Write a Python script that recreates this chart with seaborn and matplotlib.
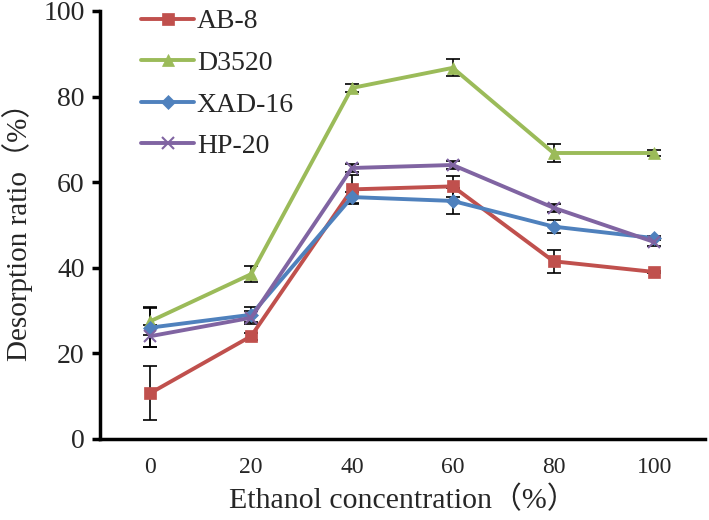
import numpy as np
import pandas as pd
import matplotlib
matplotlib.use("Agg")
import matplotlib.pyplot as plt
import seaborn as sns

sns.set_style("white")
plt.rcParams['font.family'] = ['Liberation Serif', 'Noto Sans CJK SC']

# data
concentrations = ['0', '20', '40', '60', '80', '100']
resins = ['AB-8', 'D3520', 'XAD-16', 'HP-20']

ab8 = [10.7, 24.0, 58.3, 59.0, 41.5, 39.0]
ab8_err = [6.3, 0.8, 3.3, 2.5, 2.7, 0.3]
d3520 = [27.5, 38.5, 82.0, 86.7, 66.8, 66.8]
d3520_err = [3.3, 1.8, 1.0, 2.0, 2.0, 0.8]
xad16 = [26.0, 29.0, 56.5, 55.6, 49.6, 46.9]
xad16_err = [4.5, 1.8, 1.3, 3.0, 1.5, 0.5]
hp20 = [24.0, 28.3, 63.3, 64.0, 54.0, 46.0]
hp20_err = [2.6, 1.5, 1.0, 1.0, 1.0, 1.0]

colors = ['#C0504D', '#9BBB59', '#4F81BD', '#8064A2']
markers = ['s', '^', 'D', 'x']
msizes = [9, 9, 7, 8]

values = [ab8, d3520, xad16, hp20]
errors = [ab8_err, d3520_err, xad16_err, hp20_err]

x = np.arange(len(concentrations))

fig = plt.figure(figsize=(7.09, 5.2), dpi=100)
ax = fig.add_axes([0.141, 0.156, 0.853, 0.823])

for name, vals, errs, c, m, ms in zip(resins, values, errors, colors, markers, msizes):
    ax.errorbar(x, vals, yerr=errs, fmt='none', ecolor='black', elinewidth=1.2,
                capsize=4.7, capthick=1.2, zorder=2)
    df = pd.DataFrame({'x': x, 'y': vals})
    sns.lineplot(data=df, x='x', y='y', ax=ax, color=c, marker=m, markersize=ms,
                 markeredgecolor=c, markeredgewidth=1.5 if m == 'x' else 0.5,
                 linewidth=2.8, label=name, zorder=3)

ax.set_xlim(-0.5, len(concentrations) - 0.5)
ax.set_ylim(0, 100)
ax.set_yticks([0, 20, 40, 60, 80, 100])
ax.set_xticks(x)
ax.set_xticklabels(concentrations)
ax.set_xticks(np.arange(-0.5, len(concentrations), 1), minor=True)
ax.tick_params(axis='x', which='major', length=0, pad=13, labelsize=17)
ax.tick_params(axis='x', which='minor', length=6, width=2.5, direction='out', color='black')
ax.tick_params(axis='y', which='major', length=6, width=2.5, direction='out', labelsize=20,
               left=True, color='black', pad=5)

for side in ['top', 'right']:
    ax.spines[side].set_visible(False)
for side in ['left', 'bottom']:
    ax.spines[side].set_linewidth(2.5)
    ax.spines[side].set_color('black')

ax.set_xlabel('Ethanol concentration（%）', fontsize=21.5)
ax.set_ylabel('Desorption ratio（%）', fontsize=21)
ax.xaxis.set_label_coords(0.5, -0.11)
ax.yaxis.set_label_coords(-0.11, 0.5)

leg = ax.legend(loc='upper left', bbox_to_anchor=(0.027, 1.063), frameon=False, fontsize=20,
                handlelength=1.9, labelspacing=0.58, handletextpad=0.1)

fig.savefig('out.png', dpi=100)
